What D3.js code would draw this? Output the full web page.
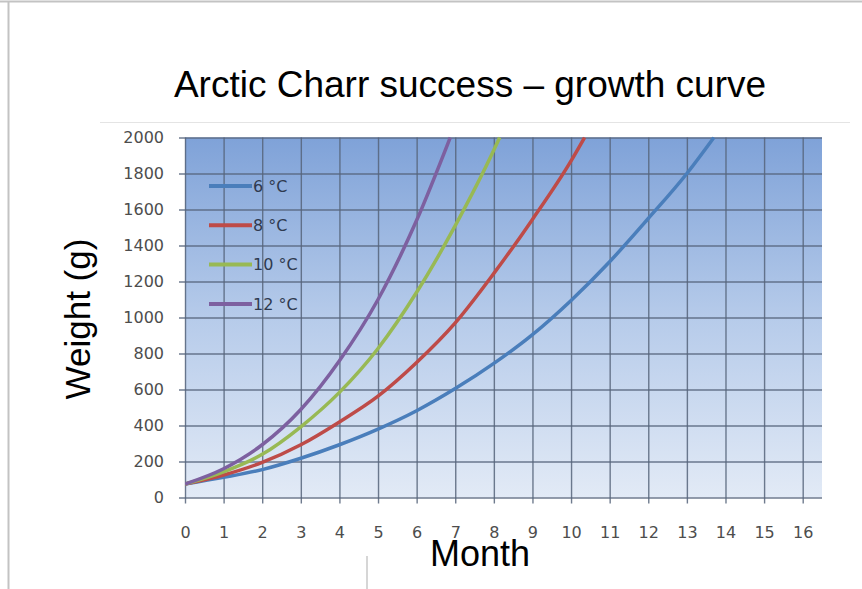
<!DOCTYPE html>
<html>
<head>
<meta charset="utf-8">
<script src="https://cdn.jsdelivr.net/npm/d3@7"></script>
<style>
  body { margin: 0; background: #fff; }
  svg { display: block; }
</style>
</head>
<body>
<div class="svg-container"></div>
<script>
// values: [month, weight in g]
const monthTicks = [0, 1, 2, 3, 4, 5, 6, 7, 8, 9, 10, 11, 12, 13, 14, 15, 16];
const weightTicks = [0, 200, 400, 600, 800, 1000, 1200, 1400, 1600, 1800, 2000];
const temps = ['6 °C', '8 °C', '10 °C', '12 °C'];
const w6 = [[0, 75], [1, 112], [2, 155], [3, 218], [4, 293], [5, 380], [6, 482], [7, 605], [8, 745], [9, 905], [10, 1095], [11, 1310], [12, 1550], [13, 1800], [13.7, 2000]];
const w8 = [[0, 75], [1, 125], [2, 195], [3, 293], [4, 420], [5, 563], [6, 750], [7, 970], [8, 1245], [9, 1545], [10, 1870], [10.35, 2000]];
const w10 = [[0, 75], [1, 143], [2, 240], [3, 393], [4, 584], [5, 828], [6, 1140], [7, 1510], [8, 1930], [8.15, 2000]];
const w12 = [[0, 75], [1, 160], [2, 293], [3, 489], [4, 760], [5, 1100], [6, 1540], [6.87, 2000]];

const series = [w6, w8, w10, w12];
const colors = ['#4a7ebb', '#be4b48', '#98b954', '#7d60a0'];

const svgWidth = 862;
const svgHeight = 589;
const plot = { left: 185, right: 822, top: 137.5, bottom: 497.5 };

const svg = d3.select('.svg-container')
  .append('svg')
  .attr('width', svgWidth)
  .attr('height', svgHeight);

// slide frame
svg.append('line').attr('x1', 0).attr('x2', svgWidth).attr('y1', 1.5).attr('y2', 1.5)
  .attr('stroke', '#c3c3c3').attr('stroke-width', 2);
svg.append('line').attr('x1', 8.5).attr('x2', 8.5).attr('y1', 1).attr('y2', svgHeight)
  .attr('stroke', '#c3c3c3').attr('stroke-width', 2);
svg.append('line').attr('x1', 367).attr('x2', 367).attr('y1', 556).attr('y2', svgHeight)
  .attr('stroke', '#c8c8c8').attr('stroke-width', 1.5);
svg.append('line').attr('x1', 100).attr('x2', 850).attr('y1', 122.5).attr('y2', 122.5)
  .attr('stroke', '#e4e4e4').attr('stroke-width', 1);

// title
svg.append('text')
  .attr('x', 470).attr('y', 97)
  .attr('text-anchor', 'middle')
  .style('font-family', 'Liberation Sans, Arial, sans-serif')
  .style('font-size', '37px')
  .text('Arctic Charr success – growth curve');

const x = d3.scaleLinear().domain([0, 16.5]).range([plot.left, plot.right]);
const y = d3.scaleLinear().domain([0, 2000]).range([plot.bottom, plot.top]);

// plot background gradient
const defs = svg.append('defs');
const grad = defs.append('linearGradient').attr('id', 'bg')
  .attr('x1', 0).attr('y1', 0).attr('x2', 0).attr('y2', 1);
grad.append('stop').attr('offset', '0%').attr('stop-color', '#7fa2d8');
grad.append('stop').attr('offset', '50%').attr('stop-color', '#b6cbea');
grad.append('stop').attr('offset', '100%').attr('stop-color', '#e2eaf6');

defs.append('clipPath').attr('id', 'clip')
  .append('rect')
  .attr('x', plot.left).attr('y', plot.top - 1)
  .attr('width', plot.right - plot.left).attr('height', plot.bottom - plot.top + 1);

svg.append('rect')
  .attr('x', plot.left).attr('y', plot.top)
  .attr('width', plot.right - plot.left).attr('height', plot.bottom - plot.top)
  .attr('fill', 'url(#bg)');

const gridColor = '#56647a';

// Y axis + horizontal grid
const yAxis = svg.append('g')
  .attr('transform', `translate(${plot.left - 6}, 0)`)
  .call(d3.axisLeft(y).tickValues(weightTicks).tickFormat(d3.format('d'))
    .tickSize(-(plot.right - plot.left + 6)).tickPadding(15));
// X axis + vertical grid
const xAxis = svg.append('g')
  .attr('transform', `translate(0, ${plot.bottom + 6})`)
  .call(d3.axisBottom(x).tickValues(monthTicks).tickFormat(d3.format('d'))
    .tickSize(-(plot.bottom - plot.top + 6)).tickPadding(23));

[yAxis, xAxis].forEach((g) => {
  g.select('.domain').remove();
  g.selectAll('.tick line')
    .attr('stroke', gridColor)
    .attr('stroke-opacity', 0.85)
    .attr('stroke-width', 1.4);
  g.selectAll('.tick text')
    .attr('fill', '#4d4d4d')
    .style('font-family', 'DejaVu Sans, Verdana, sans-serif')
    .style('font-size', '16px');
});

// growth curves
const line = d3.line()
  .x((d) => x(d[0]))
  .y((d) => y(d[1]))
  .curve(d3.curveMonotoneX);

svg.append('g').attr('clip-path', 'url(#clip)')
  .selectAll('path')
  .data(series)
  .join('path')
  .attr('fill', 'none')
  .attr('stroke', (d, i) => colors[i])
  .attr('stroke-width', 3.5)
  .attr('d', line);

// legend
const legend = svg.append('g').attr('transform', 'translate(209, 186)');
temps.forEach((t, i) => {
  const row = legend.append('g').attr('transform', `translate(0, ${i * 39.3})`);
  row.append('line').attr('x1', 0).attr('x2', 43).attr('y1', 0).attr('y2', 0)
    .attr('stroke', colors[i]).attr('stroke-width', 4);
  row.append('text').attr('x', 44).attr('y', 0).attr('dy', '0.36em')
    .attr('fill', '#2f3a4f')
    .style('font-family', 'DejaVu Sans, Verdana, sans-serif')
    .style('font-size', '16px')
    .text(t);
});

// axis titles
svg.append('text')
  .attr('transform', 'translate(90, 319) rotate(-90)')
  .attr('text-anchor', 'middle')
  .style('font-family', 'Liberation Sans, Arial, sans-serif')
  .style('font-size', '35px')
  .text('Weight (g)');

svg.append('text')
  .attr('x', 480).attr('y', 566)
  .attr('text-anchor', 'middle')
  .style('font-family', 'Liberation Sans, Arial, sans-serif')
  .style('font-size', '36px')
  .text('Month');
</script>
</body>
</html>
